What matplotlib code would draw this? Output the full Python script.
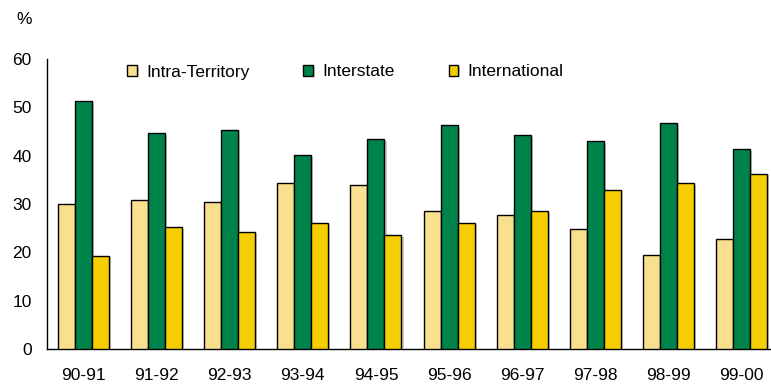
import numpy as np
import matplotlib.pyplot as plt
import matplotlib.patheffects as pe

plt.rcParams['font.family'] = ['Liberation Sans', 'DejaVu Sans']

# data
years = ['90-91', '91-92', '92-93', '93-94', '94-95',
         '95-96', '96-97', '97-98', '98-99', '99-00']
intra_territory = [30.1, 30.9, 30.5, 34.3, 33.9, 28.5, 27.7, 24.8, 19.4, 22.7]
interstate = [51.3, 44.6, 45.4, 40.1, 43.4, 46.3, 44.2, 43.0, 46.7, 41.3]
international = [19.3, 25.2, 24.3, 26.0, 23.5, 26.0, 28.5, 33.0, 34.3, 36.3]

series = [('Intra-Territory', intra_territory, '#F9E08E'),
          ('Interstate', interstate, '#00834A'),
          ('International', international, '#F4CE00')]

fs = 12.5
fig = plt.figure(figsize=(7.71, 3.84), dpi=100)
ax = fig.add_axes([47 / 771, 35 / 384, 731 / 771, 290 / 384])

x = np.arange(len(years))
w = 0.233
shadow = [pe.SimplePatchShadow(offset=(1.5, -1.0), shadow_rgbFace='#c8c8c8', alpha=1.0), pe.Normal()]
for i, (name, vals, col) in enumerate(series):
    bars = ax.bar(x + (i - 1) * w, vals, width=w, color=col, edgecolor='black',
                  linewidth=1.0, label=name, zorder=3)
    for b in bars:
        b.set_path_effects(shadow)

ax.set_xlim(-0.5, len(years) - 0.5)
ax.set_ylim(0, 60)
ax.set_yticks(range(0, 61, 10))
ax.set_xticks(x)
ax.set_xticklabels(years)
ax.tick_params(axis='both', length=0, labelsize=fs, colors='black')
ax.tick_params(axis='y', pad=11)
ax.tick_params(axis='x', pad=13.5)
for s in ['top', 'right']:
    ax.spines[s].set_visible(False)
for s in ['left', 'bottom']:
    ax.spines[s].set_linewidth(1.0)
    ax.spines[s].set_color('black')

fig.text(24 / 771, 1 - 19 / 384, '%', fontsize=fs, ha='center', va='center')

leg = fig.legend(loc='center left', bbox_to_anchor=(127 / 771, 1 - 72 / 384), ncol=3,
                 frameon=False, fontsize=fs, borderpad=0, borderaxespad=0,
                 handlelength=0.55, handleheight=0.55, handletextpad=0.55,
                 columnspacing=3.1)

fig.savefig('out.png', dpi=100)
